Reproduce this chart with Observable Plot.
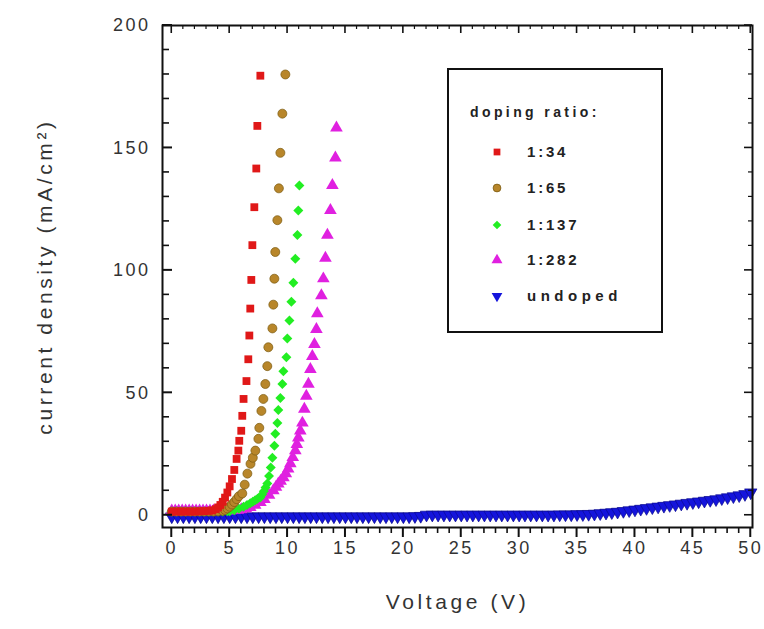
<!DOCTYPE html>
<html><head><meta charset="utf-8">
<script src="https://cdn.jsdelivr.net/npm/d3@7"></script>
<script src="https://cdn.jsdelivr.net/npm/@observablehq/plot@0.6"></script>
<style>
body{margin:0;background:#fff;}
#chart{width:764px;height:629px;}
</style></head><body><div id="chart"></div>
<script>
// ---- data (Voltage V, current density mA/cm²) ----
const seriesNames = ["1:34", "1:65", "1:137", "1:282", "undoped"];

const ratio34_V = [0,0.4,0.8,1.2,1.6,2.0,2.4,2.8,3.2,3.5,3.8,4.0,4.2,4.4,4.6,4.8,5.0,5.2,5.4,5.6,5.75,5.83,6.0,6.09,6.2,6.45,6.61,6.70,6.78,6.87,6.96,7.13,7.30,7.39,7.65];
const ratio34_J = [1.5,1.5,1.5,1.5,1.5,1.5,1.6,1.7,1.8,2.0,2.5,3.2,4.2,5.5,7.2,9.3,11.8,14.8,18.5,23,26.4,30.4,34.5,40.6,47.5,54.8,63.7,73.4,84.4,96.1,110.3,125.8,141.6,159,179.5];

const ratio65_V = [0,0.4,0.8,1.2,1.6,2.0,2.4,2.8,3.2,3.6,4.0,4.4,4.6,4.8,5.0,5.2,5.4,5.6,5.8,6.09,6.3,6.53,6.8,7.0,7.22,7.48,7.56,7.74,7.91,8.08,8.25,8.34,8.69,8.77,8.86,8.94,9.12,9.25,9.38,9.55,9.81];
const ratio65_J = [1.5,1.5,1.5,1.5,1.5,1.5,1.5,1.5,1.5,1.5,1.6,1.8,2.2,2.8,3.5,4.4,5.4,6.6,7.8,8.9,12.5,17,21,23.5,26.4,31.2,35.7,42.6,47.5,53.6,60.9,68.6,76.3,86,96.6,107.5,120.5,133.5,148,164,180];

const ratio137_V = [0,0.4,0.8,1.2,1.6,2.0,2.4,2.8,3.2,3.6,4.0,4.4,4.8,5.0,5.4,5.8,6.2,6.5,6.78,7.0,7.2,7.4,7.65,7.8,7.95,8.1,8.25,8.4,8.55,8.69,8.86,8.94,9.12,9.2,9.38,9.55,9.64,9.9,9.98,10.16,10.33,10.5,10.67,10.85,10.93,11.02];
const ratio137_J = [1.5,1.5,1.5,1.5,1.5,1.5,1.5,1.5,1.5,1.5,1.5,1.5,1.6,1.6,2.0,2.7,3.5,4.2,4.9,5.5,6.1,6.7,7.3,8.5,9.8,11.3,13,16,19.5,23.5,28.4,33.3,37.7,43,47.9,53.6,58.8,64.5,72.2,79.5,87.2,94.9,104.7,114.4,124.5,134.7];

const ratio282_V = [0,0.3,0.6,0.9,1.2,1.5,1.8,2.1,2.4,2.7,3.0,3.3,3.6,3.9,4.2,4.5,4.8,5.1,5.4,5.7,6.0,6.4,6.78,7.2,7.65,8.0,8.4,8.77,9.0,9.2,9.4,9.64,9.85,10.05,10.24,10.45,10.67,10.8,10.93,11.1,11.28,11.45,11.62,11.8,11.97,12.14,12.32,12.49,12.57,12.92,13.09,13.27,13.44,13.7,13.87,14.13,14.22];
const ratio282_J = [1.8,1.8,1.8,1.8,1.8,1.8,1.8,1.8,1.8,1.8,1.8,1.8,1.8,1.8,1.8,1.8,1.8,1.9,2.0,2.1,2.3,2.7,3.2,4.2,5.3,6.5,8.2,10.1,11.5,12.8,14,15.4,17,19,21.1,23.6,26.4,29,31.6,34.5,37.7,43.4,48.7,53.6,59.6,64.9,69.8,75.9,82.4,89.7,96.6,105,114.4,124.5,134.7,146,158.2];

const undoped_V = [0,0.5,1,1.5,2,2.5,3,3.5,4,4.5,5,5.5,6,6.5,7,7.5,8,8.5,9,9.5,10,10.5,11,11.5,12,12.5,13,13.5,14,14.5,15,15.5,16,16.5,17,17.5,18,18.5,19,19.5,20,20.5,21,21.5,22,22.5,23,23.5,24,24.5,25,25.5,26,26.5,27,27.5,28,28.5,29,29.5,30,30.5,31,31.5,32,32.5,33,33.5,34,34.5,35,35.5,36,36.5,37,37.5,38,38.5,39,39.5,40,40.5,41,41.5,42,42.5,43,43.5,44,44.5,45,45.5,46,46.5,47,47.5,48,48.5,49,49.5,50];
const undoped_J = [-0.5,-0.5,-0.5,-0.5,-0.5,-0.5,-0.5,-0.5,-0.5,-0.5,-0.5,-0.5,-0.5,-0.5,-0.5,-0.5,-0.5,-0.5,-0.5,-0.5,-0.5,-0.5,-0.5,-0.5,-0.5,-0.5,-0.5,-0.5,-0.5,-0.5,-0.5,-0.5,-0.5,-0.5,-0.5,-0.5,-0.5,-0.5,-0.5,-0.5,-0.5,-0.5,-0.4,-0.3,0.2,0.2,0.2,0.2,0.2,0.2,0.2,0.2,0.2,0.2,0.2,0.2,0.2,0.2,0.2,0.2,0.2,0.2,0.2,0.2,0.2,0.2,0.2,0.3,0.3,0.3,0.4,0.4,0.5,0.6,0.8,1.0,1.2,1.4,1.7,2.0,2.3,2.6,2.9,3.2,3.5,3.8,4.1,4.4,4.7,5.0,5.3,5.6,5.9,6.2,6.5,6.9,7.3,7.7,8.1,8.6,9.3];

const xTickLabels = [0,5,10,15,20,25,30,35,40,45,50];
const yTickLabels = [0,50,100,150,200];
const legendTitle = "doping ratio:";
const xTitle = "Voltage (V)";
const yTitle = "current density (mA/cm²)";

// ---- styling ----
const colors = {"1:34":"#e01818","1:65":"#b8862a","1:137":"#22ee22","1:282":"#e020e0","undoped":"#1414dc"};
const symbols = {"1:34":"square","1:65":"circle","1:137":"diamond2","1:282":"triangle","undoped":"triangle"};
const radii = {"1:34":4.4,"1:65":4.5,"1:137":4.5,"1:282":4.7,"undoped":4.6};
const rot = {"1:34":0,"1:65":0,"1:137":0,"1:282":0,"undoped":180};

const pairs = [[ratio34_V,ratio34_J],[ratio65_V,ratio65_J],[ratio137_V,ratio137_J],[ratio282_V,ratio282_J],[undoped_V,undoped_J]];
const rows = [];
[4,3,2,1,0].forEach(k => {
  const [V, J] = pairs[k];
  V.forEach((v, i) => rows.push({series: seriesNames[k], V: v, J: J[i]}));
});

const xMinor = d3.range(0, 51, 1).filter(v => v % 5 !== 0);
const yMinor = d3.range(0, 201, 10).filter(v => v % 50 !== 0);
const font = "Liberation Sans, Arial, sans-serif";

const W = 764, H = 629, ML = 162, MR = 12, MT = 25, MB = 102;

const dotMark = s => Plot.dot(rows.filter(d => d.series === s), {
  x: "V", y: "J", symbol: () => symbols[s], r: radii[s], rotate: rot[s],
  fill: colors[s], stroke: s === "1:65" ? "#7a5a10" : (s === "undoped" ? "#0a0a90" : "none"), strokeWidth: 0.7
});

const chart = Plot.plot({
  width: W, height: H,
  marginLeft: ML, marginRight: MR, marginTop: MT, marginBottom: MB,
  style: {fontFamily: font, background: "#fff", color: "#222"},
  x: {domain: [-0.8, 50.15], axis: null},
  y: {domain: [-5, 200], axis: null},
  symbol: {type: "identity"},
  marks: [
    dotMark("undoped"), dotMark("1:282"), dotMark("1:137"), dotMark("1:65"), dotMark("1:34"),
    Plot.frame({stroke: "#111", strokeWidth: 2}),
    Plot.axisX(xTickLabels, {anchor: "bottom", tickSize: 0, tickPadding: 14, fontSize: 18, fill: "#333", label: null}),
    Plot.axisY(yTickLabels, {anchor: "left", tickSize: 0, tickPadding: 12, fontSize: 18, fill: "#333", label: null}),
    Plot.text([xTitle], {frameAnchor: "bottom", dy: 81, fontSize: 21, fill: "#333", textAnchor: "middle"}),
    Plot.text([yTitle], {frameAnchor: "left", dx: -117, rotate: -90, fontSize: 21, fill: "#333", textAnchor: "middle"})
  ]
});
document.getElementById("chart").appendChild(chart);

const svg = d3.select(chart);
svg.selectAll("[aria-label='x-axis tick label'] text").style("letter-spacing", "2.5px");
svg.selectAll("[aria-label='y-axis tick label'] text").style("letter-spacing", "2.5px");
svg.selectAll("[aria-label='text'] text").style("letter-spacing", "3.6px");

// ---- tick marks placed with the chart's own scales ----
const sx = chart.scale("x"), sy = chart.scale("y");
const fLeft = ML, fRight = W - MR, fTop = MT, fBottom = H - MB;
const tg = svg.append("g").attr("stroke", "#111");
const tickLine = (x1, y1, x2, y2, w) => tg.append("line").attr("x1", x1).attr("y1", y1).attr("x2", x2).attr("y2", y2).attr("stroke-width", w);
xTickLabels.forEach(v => { const x = sx.apply(v); tickLine(x, fBottom, x, fBottom + 10, 2); tickLine(x, fTop, x, fTop + 8, 1.6); });
xMinor.forEach(v => { const x = sx.apply(v); tickLine(x, fBottom, x, fBottom + 6, 1.6); tickLine(x, fTop, x, fTop + 4, 1.2); });
yTickLabels.forEach(v => { const y = sy.apply(v); tickLine(fLeft, y, fLeft + 10, y, 2); tickLine(fRight, y, fRight - 8, y, 1.6); });
yMinor.forEach(v => { const y = sy.apply(v); tickLine(fLeft, y, fLeft + 7, y, 1.6); tickLine(fRight, y, fRight - 4, y, 1.2); });

// ---- legend box inside the plot ----
const lg = svg.append("g").attr("font-family", font).attr("fill", "#222").attr("text-anchor", "start");
lg.append("rect").attr("x", 448).attr("y", 69).attr("width", 214).attr("height", 263)
  .attr("fill", "#fff").attr("stroke", "#111").attr("stroke-width", 2);
lg.append("text").attr("x", 470).attr("y", 117).attr("font-size", 14).attr("font-weight", "bold")
  .style("letter-spacing", "3.4px").text(legendTitle);
const symType = {square: d3.symbolSquare, circle: d3.symbolCircle, diamond2: d3.symbolDiamond2, triangle: d3.symbolTriangle};
const rowY = [152, 188, 225, 260, 296];
seriesNames.forEach((s, i) => {
  const size = Math.PI * radii[s] * radii[s] * 0.75;
  lg.append("path").attr("d", d3.symbol(symType[symbols[s]], size)())
    .attr("transform", `translate(497,${rowY[i]}) rotate(${rot[s]})`)
    .attr("fill", colors[s]).attr("stroke", s === "1:65" ? "#7a5a10" : "none").attr("stroke-width", 0.8);
  lg.append("text").attr("x", 527).attr("y", rowY[i]).attr("dy", "0.35em").attr("font-size", 15)
    .attr("font-weight", "bold").style("letter-spacing", s === "undoped" ? "4.5px" : "2.8px").text(s);
});
</script>
</body></html>
